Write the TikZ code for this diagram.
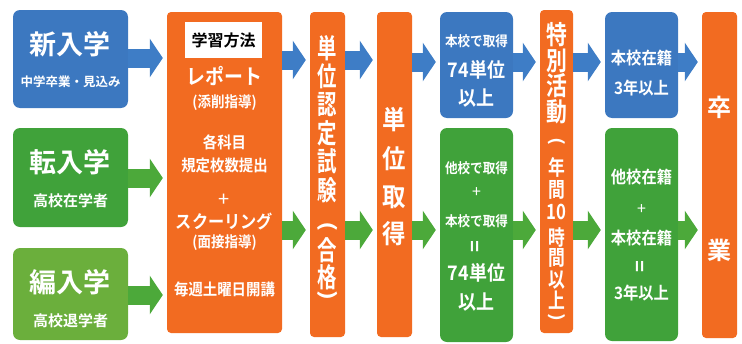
\documentclass[tikz,border=0pt]{standalone}
\usepackage{fontspec}
\usepackage{graphicx}
\setmainfont{Noto Sans CJK JP}[BoldFont={Noto Sans CJK JP Bold}]
\usetikzlibrary{arrows.meta}
\definecolor{cblue}{HTML}{3C78C0}
\definecolor{cgreen}{HTML}{40A23A}
\definecolor{clgreen}{HTML}{6BAF3C}
\definecolor{corange}{HTML}{F26B21}
\definecolor{carrowb}{HTML}{3E7DC6}
\definecolor{carrowg}{HTML}{4CA93A}
\newcommand\myfs[1]{\fontsize{#1}{#1}\selectfont}
\newcommand\nar[2]{\scalebox{#1}[1]{#2}}
\newcommand\vop{\rotatebox{-90}{(}}
\newcommand\vcl{\rotatebox{-90}{)}}
\begin{document}
\begin{tikzpicture}[x=1pt,y=-1pt,
 box/.style={rounded corners=7pt, inner sep=0pt, draw=none},
 obox/.style={box, fill=corange, rounded corners=4pt},
 tx/.style={text=white, inner sep=0pt, align=center},
 barrow/.style={draw=carrowb, line width=19pt, -{Triangle[length=13pt,width=38pt]}, shorten >=4pt},
 garrow/.style={barrow, draw=carrowg},
]
\useasboundingbox (0,0) rectangle (742,343);
% boxes
\node[box, fill=cblue, minimum width=115pt, minimum height=98pt] (shin) at (70.5,59) {};
\node[box, fill=cgreen, minimum width=115pt, minimum height=99pt] (ten) at (70.5,177.5) {};
\node[box, fill=clgreen, minimum width=115pt, minimum height=92pt] (hen) at (70.5,294) {};
\node[obox, minimum width=115pt, minimum height=321pt] (study) at (224.5,172.5) {};
\node[obox, minimum width=35pt, minimum height=325pt] (nintei) at (327.5,174.5) {};
\node[obox, minimum width=35pt, minimum height=325pt] (shutoku) at (394.5,174.5) {};
\node[box, fill=cblue, minimum width=73pt, minimum height=106pt] (honko) at (476.5,65) {};
\node[box, fill=cgreen, minimum width=73pt, minimum height=214pt] (tako) at (476.5,235) {};
\node[obox, minimum width=33pt, minimum height=323pt] (toku) at (556.5,171.5) {};
\node[box, fill=cblue, minimum width=73pt, minimum height=106pt] (zai1) at (641.5,65) {};
\node[box, fill=cgreen, minimum width=73pt, minimum height=213pt] (zai2) at (641.5,234.5) {};
\node[obox, minimum width=35pt, minimum height=326pt] (sotsu) at (719.5,175) {};
% left texts
\node[tx, font=\myfs{27}\bfseries] (t1) at (70.5,44) {新入学};
\node[tx, font=\myfs{12.5}\bfseries] (t1s) at (70.5,82) {中学卒業・見込み};
\node[tx, font=\myfs{27}\bfseries] (t2) at (70.5,162) {転入学};
\node[tx, font=\myfs{15}\bfseries] (t2s) at (70.5,201) {高校在学者};
\node[tx, font=\myfs{27}\bfseries] (t3) at (70.5,282) {編入学};
\node[tx, font=\myfs{15}\bfseries] (t3s) at (70.5,321) {高校退学者};
% study texts
\node[fill=white, minimum width=77pt, minimum height=36pt, inner sep=0pt, font=\myfs{16}\bfseries] (hoho) at (223.5,40) {学習方法};
\node[tx, font=\myfs{21}\bfseries] (s1) at (224.5,76) {\nar{0.9}{レポート}};
\node[tx, font=\myfs{15}\bfseries] (s2) at (224.5,103) {\nar{0.9}{(添削指導)}};
\node[tx, font=\myfs{16}\bfseries] (s3) at (224.5,142) {\nar{0.9}{各科目}};
\node[tx, font=\myfs{16}\bfseries] (s4) at (224.5,165) {\nar{0.9}{規定枚数提出}};
\node[tx, font=\myfs{20}] (s5) at (224.5,200) {+};
\node[tx, font=\myfs{18}\bfseries] (s6) at (224.5,222) {\nar{0.9}{スクーリング}};
\node[tx, font=\myfs{15}\bfseries] (s7) at (224.5,243) {\nar{0.9}{(面接指導)}};
\node[tx, font=\myfs{16}\bfseries] (s8) at (224.5,289) {\nar{0.9}{毎週土曜日開講}};
% vertical columns
\foreach \c/\y [count=\i] in {単/48,位/76.4,認/104.8,定/133.2,試/161.6,験/190,\vop/227,合/250,格/277,\vcl/296}
  \node[tx, font=\myfs{27}\bfseries] (nt\i) at (327.5,\y) {\nar{0.72}{\c}};
\foreach \c/\y [count=\i] in {単/120,位/159,取/197,得/234}
  \node[tx, font=\myfs{26}\bfseries] (st\i) at (394.5,\y) {\nar{0.9}{\c}};
\foreach \c/\y [count=\i] in {特/35,別/61,活/86,動/112}
  \node[tx, font=\myfs{26}\bfseries] (tk\i) at (556.5,\y) {\nar{0.8}{\c}};
\foreach \c/\y [count=\i] in {\vop/141,年/167,間/190,10/212,時/237,間/258,以/280,上/300,\vcl/317}
  \node[tx, font=\myfs{21}\bfseries] (tm\i) at (556.5,\y) {\nar{0.8}{\c}};
\node[tx, font=\myfs{24}\bfseries] (so1) at (719.5,107) {卒};
\node[tx, font=\myfs{24}\bfseries] (so2) at (719.5,250) {業};
% right boxes texts
\node[tx, font=\myfs{14}\bfseries] (h1) at (476.5,41) {\nar{0.9}{本校で取得}};
\node[tx, font=\myfs{20}\bfseries] (h2) at (476.5,70) {\nar{0.9}{74単位}};
\node[tx, font=\myfs{20}\bfseries] (h3) at (476.5,98) {\nar{0.9}{以上}};
\node[tx, font=\myfs{14}\bfseries] (g1) at (476.5,168) {\nar{0.9}{他校で取得}};
\node[tx, font=\myfs{16}] (g2) at (476.5,193) {+};
\node[tx, font=\myfs{14}\bfseries] (g3) at (476.5,221) {\nar{0.9}{本校で取得}};
\node[tx, font=\myfs{20}\bfseries] (g4) at (476.5,247) {\rotatebox{90}{=}};
\node[tx, font=\myfs{20}\bfseries] (g5) at (476.5,273) {\nar{0.9}{74単位}};
\node[tx, font=\myfs{20}\bfseries] (g6) at (476.5,302) {\nar{0.9}{以上}};
\node[tx, font=\myfs{17}\bfseries] (z1) at (641.5,58) {\nar{0.9}{本校在籍}};
\node[tx, font=\myfs{17}\bfseries] (z2) at (641.5,88) {\nar{0.9}{3年以上}};
\node[tx, font=\myfs{17}\bfseries] (y1) at (641.5,177) {\nar{0.9}{他校在籍}};
\node[tx, font=\myfs{16}] (y2) at (641.5,210) {+};
\node[tx, font=\myfs{17}\bfseries] (y3) at (641.5,238) {\nar{0.9}{本校在籍}};
\node[tx, font=\myfs{20}\bfseries] (y4) at (641.5,267) {\rotatebox{90}{=}};
\node[tx, font=\myfs{17}\bfseries] (y5) at (641.5,293) {\nar{0.9}{3年以上}};
% arrows
\draw[barrow] (shin.east |- 0,58) -- (study.west |- 0,58);
\draw[garrow] (ten.east |- 0,178) -- (study.west |- 0,178);
\draw[garrow] (hen.east |- 0,295) -- (study.west |- 0,295);
\draw[barrow] (study.east |- 0,60) -- (nintei.west |- 0,60);
\draw[garrow] (study.east |- 0,230) -- (nintei.west |- 0,230);
\draw[barrow] (nintei.east |- 0,60) -- (shutoku.west |- 0,60);
\draw[garrow] (nintei.east |- 0,230) -- (shutoku.west |- 0,230);
\draw[barrow] (shutoku.east |- 0,62) -- (honko.west |- 0,62);
\draw[garrow] (shutoku.east |- 0,230) -- (tako.west |- 0,230);
\draw[barrow] (honko.east |- 0,62) -- (toku.west |- 0,62);
\draw[garrow] (tako.east |- 0,230) -- (toku.west |- 0,230);
\draw[barrow] (toku.east |- 0,62) -- (zai1.west |- 0,62);
\draw[garrow] (toku.east |- 0,230) -- (zai2.west |- 0,230);
\draw[barrow] (zai1.east |- 0,62) -- (sotsu.west |- 0,62);
\draw[garrow] (zai2.east |- 0,230) -- (sotsu.west |- 0,230);
\end{tikzpicture}
\end{document}
